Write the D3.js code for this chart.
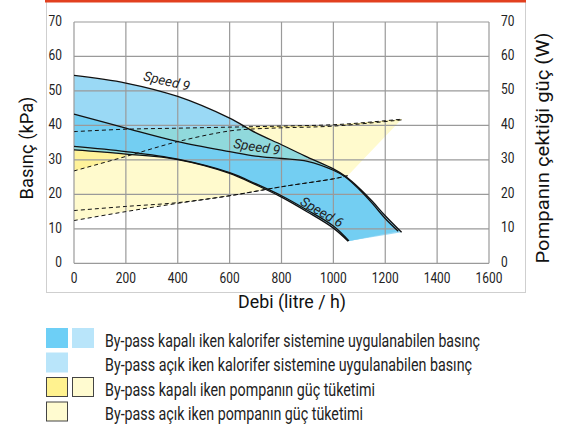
<!DOCTYPE html>
<html>
<head>
<meta charset="utf-8">
<script src="https://cdn.jsdelivr.net/npm/d3@7"></script>
<style>
body{margin:0;background:#fff;}
svg{display:block;font-family:Roboto,"Liberation Sans",sans-serif;}
</style>
</head>
<body>
<svg id="chart" width="571" height="428"></svg>
<script>
// eksen etiketleri
var xTicks=[0,200,400,600,800,1000,1200,1400,1600];
var yTicks=[0,10,20,30,40,50,60,70];

// basinç egrileri (debi litre/h -> kPa)
var s9KapaliQ=[0,200,400,600,700,800,900,1000,1045,1100,1150,1200,1263];
var s9KapaliP=[54.5,52.3,48.4,42.1,37.9,34.4,30.8,27.4,25.3,21.8,18.0,13.8,9.0];
var s9AcikQ=[0,200,400,600,700,800,900,1000,1045,1100,1150,1200,1250];
var s9AcikP=[43.3,39.2,35.3,32.4,31.1,30.4,29.6,27.0,25.1,21.4,17.4,13.0,9.3];
var s6KapaliQ=[0,200,400,600,700,800,900,1000,1060];
var s6KapaliP=[33.9,32.4,30.2,26.3,23.1,19.6,15.4,10.8,6.5];
var s6AcikQ=[0,200,400,600,700,800,900,1000,1057];
var s6AcikP=[32.9,31.7,30.1,26.1,22.8,19.2,14.9,10.2,6.4];

// güç tüketimi (W), kesikli cizgiler
var g1Q=[0,200,400,600,800,1000,1100,1263];
var g1W=[38.2,38.9,39.2,39.5,39.8,40.2,40.7,41.8];
var g2Q=[0,200,400,600,700,800,1000,1263];
var g2W=[26.8,31.0,35.3,38.4,39.0,39.3,39.8,41.6];
var g3Q=[0,200,400,600,800,1000,1055];
var g3W=[15.3,16.5,17.6,19.6,22.2,24.5,25.4];
var g4Q=[0,200,400,600,800,1000,1055];
var g4W=[12.4,15.0,17.4,19.6,22.2,24.5,25.4];

var legendLabels=["By-pass kapalı iken kalorifer sistemine uygulanabilen basınç",
	"By-pass açık iken kalorifer sistemine uygulanabilen basınç",
	"By-pass kapalı iken pompanın güç tüketimi",
	"By-pass açık iken pompanın güç tüketimi"];

var svg=d3.select("#chart");
var x=d3.scaleLinear().domain([0,1600]).range([74,489]);
var y=d3.scaleLinear().domain([0,70]).range([263.3,22]);

function pts(q,v){
	return q.map(function(d,i){return [d,v[i]];});
}
var line=d3.line()
	.x(function(d){return x(d[0]);})
	.y(function(d){return y(d[1]);})
	.curve(d3.curveCatmullRom.alpha(0.5));
// ust egri ileri, alt egri geri -> kapali alan
function band(upper,lower){
	return line(upper)+"L"+line(lower.slice().reverse()).slice(1)+"Z";
}
// dar (DIN benzeri) yazi icin genislik sikistirma
function narrow(sel,w){
	sel.attr("textLength",w).attr("lengthAdjust","spacingAndGlyphs");
}

var s9K=pts(s9KapaliQ,s9KapaliP), s9A=pts(s9AcikQ,s9AcikP);
var s6K=pts(s6KapaliQ,s6KapaliP), s6A=pts(s6AcikQ,s6AcikP);
var g1=pts(g1Q,g1W), g2=pts(g2Q,g2W), g3=pts(g3Q,g3W), g4=pts(g4Q,g4W);

// cerceve
svg.append("rect").attr("x",46.5).attr("y",0.5).attr("width",479).attr("height",292)
	.attr("fill","none").attr("stroke","#cfcfcf");
svg.append("rect").attr("x",45).attr("y",0).attr("width",481).attr("height",2.5).attr("fill","#e2401f");

var yellowPath=band(g1,g4);
svg.append("clipPath").attr("id","yclip").append("path").attr("d",yellowPath);

var fills=svg.append("g");
fills.append("path").attr("d",yellowPath).attr("fill","#fffacd");
fills.append("path").attr("d",band(g1,g2)).attr("fill","#fff29a");
[band(s9K,s6K),band(s9A,s6A)].forEach(function(p){
	fills.append("path").attr("d",p).attr("fill","#9ad9f5");
	fills.append("path").attr("d",p).attr("fill","#90d9dc").attr("clip-path","url(#yclip)");
});
fills.append("path").attr("d",band(s9A,s6K)).attr("fill","#73cef2");

// izgara
var grid=svg.append("g").attr("stroke","#9a9a9a").attr("stroke-width",1.2);
grid.selectAll(".gx").data(xTicks).enter().append("line")
	.attr("x1",function(d){return x(d);}).attr("x2",function(d){return x(d);})
	.attr("y1",y(0)).attr("y2",y(70));
grid.selectAll(".gy").data(yTicks).enter().append("line")
	.attr("x1",x(0)).attr("x2",x(1600))
	.attr("y1",function(d){return y(d);}).attr("y2",function(d){return y(d);});

// kesikli güç cizgileri
[g1,g2,g3,g4].forEach(function(g){
	svg.append("path").attr("d",line(g)).attr("fill","none")
		.attr("stroke","#111").attr("stroke-width",1).attr("stroke-dasharray","4,3");
});
// basinç egrileri
[s9K,s9A,s6K,s6A].forEach(function(c){
	svg.append("path").attr("d",line(c)).attr("fill","none")
		.attr("stroke","#111").attr("stroke-width",1.3);
});

// hiz etiketleri
var speeds=[{t:"Speed 9",q:358,p:52.9,a:13},{t:"Speed 9",q:705,p:33.8,a:9},{t:"Speed 6",q:956,p:14.9,a:30}];
svg.selectAll(".spd").data(speeds).enter().append("text")
	.attr("transform",function(d){return "translate("+x(d.q)+","+y(d.p)+") rotate("+d.a+")";})
	.attr("text-anchor","middle").attr("dy","0.35em")
	.style("font-style","italic").style("font-size","13.5px").attr("fill","#222")
	.text(function(d){return d.t;});

// eksen yazilari
function digitW(d){return String(d).length*6.7;}
svg.selectAll(".yl").data(yTicks).enter().append("text")
	.attr("x",62).attr("y",function(d){return y(d)+4;}).attr("text-anchor","end")
	.style("font-size","15px").attr("fill","#222").text(function(d){return d;})
	.call(narrow,digitW);
svg.selectAll(".yr").data(yTicks).enter().append("text")
	.attr("x",501).attr("y",function(d){return y(d)+3.5;}).attr("text-anchor","start")
	.style("font-size","14px").attr("fill","#222").text(function(d){return d;})
	.call(narrow,digitW);
svg.selectAll(".xl").data(xTicks).enter().append("text")
	.attr("x",function(d){return x(d);}).attr("y",282.5).attr("text-anchor","middle")
	.style("font-size","14px").attr("fill","#222").text(function(d){return d;})
	.call(narrow,digitW);

svg.append("text").attr("transform","translate(33,148) rotate(-90)").attr("text-anchor","middle")
	.style("font-size","19px").attr("fill","#111").text("Basınç (kPa)").call(narrow,103);
svg.append("text").attr("transform","translate(549,148) rotate(-90)").attr("text-anchor","middle")
	.style("font-size","19px").attr("fill","#111").text("Pompanın çektiği güç (W)").call(narrow,231);
svg.append("text").attr("x",292).attr("y",308).attr("text-anchor","middle")
	.style("font-size","19px").attr("fill","#111").text("Debi (litre / h)").call(narrow,108);

// lejant
var legendW=[375,367,270,258];
var sw=[
	[{x:46,c:"#6dcff6",b:false},{x:72,c:"#b9e5fa",b:false}],
	[{x:46,c:"#b9e5fa",b:false}],
	[{x:46,c:"#fff28f",b:true},{x:72,c:"#fffbd0",b:true}],
	[{x:46,c:"#fffbd0",b:true}]
];
var leg=svg.append("g");
legendLabels.forEach(function(t,i){
	var yy=328+i*24.5;
	sw[i].forEach(function(s){
		leg.append("rect").attr("x",s.x+(s.b?0.5:0)).attr("y",yy+(s.b?0.5:0))
			.attr("width",s.b?21:22).attr("height",s.b?19:20).attr("fill",s.c)
			.attr("stroke",s.b?"#444":"none").attr("stroke-width",1);
	});
	leg.append("text").attr("x",105).attr("y",yy+18.5).style("font-size","17.5px")
		.attr("fill","#222").text(t).call(narrow,legendW[i]);
});
</script>
</body>
</html>
